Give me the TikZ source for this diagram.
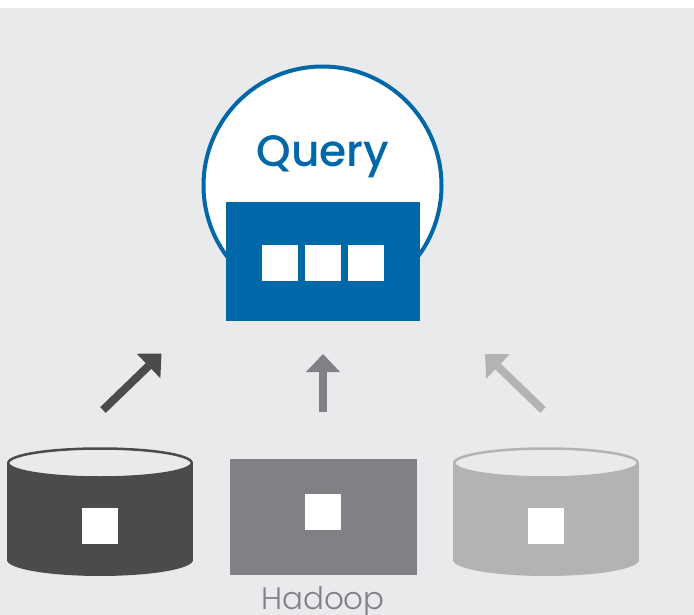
\documentclass[tikz,border=0pt]{standalone}
\usepackage{fontspec}
\setmainfont{Poppins}
\newfontfamily\qfont{Poppins Medium}
\newfontfamily\hfont{Poppins Light}
\usetikzlibrary{arrows.meta}
\definecolor{bg}{HTML}{E9EAEC}
\definecolor{qblue}{HTML}{0068A9}
\definecolor{dark}{HTML}{4B4B4D}
\definecolor{mid}{HTML}{808184}
\definecolor{light}{HTML}{B1B3B5}
\tikzset{
  sq/.style={fill=white,draw=none,minimum size=36pt,inner sep=0pt},
  uparrow/.style={line width=8pt,-{Triangle[length=18pt,width=34pt,line width=0pt]}},
}
\begin{document}
\begin{tikzpicture}[x=1pt,y=-1pt]
\useasboundingbox (0,0) rectangle (694,615);
\fill[white] (0,0) rectangle (694,615);
\fill[bg] (0,8) rectangle (694,615);
% query circle
\node[circle,draw=qblue,line width=4pt,fill=white,minimum size=238pt,inner sep=0pt] (circ) at (322.5,185.5) {};
\node[anchor=base,text=qblue,font=\qfont\fontsize{44}{44}\selectfont] (query) at (323,167) {Query};
\node[fill=qblue,minimum width=194pt,minimum height=119pt,inner sep=0pt] (qbox) at (323,261.5) {};
\node[sq] (q1) at (280,263) {};
\node[sq] (q2) at (323,263) {};
\node[sq] (q3) at (366,263) {};
% left cylinder
\fill[dark] (7,463) rectangle (193,560);
\fill[dark] (100,560) ellipse[x radius=93,y radius=16];
\filldraw[fill=bg,draw=dark,line width=2.5pt] (100,463) ellipse[x radius=91.75,y radius=14.5];
\node[sq] (s1) at (100,526) {};
% middle box
\node[fill=mid,minimum width=187pt,minimum height=116pt,inner sep=0pt] (hbox) at (323.5,517) {};
\node[sq] (s2) at (323,512) {};
\node[anchor=base,text=mid,font=\hfont\fontsize{31}{31}\selectfont] (hadoop) at (323,609) {Hadoop};
% right cylinder
\fill[light] (453,463) rectangle (639,560);
\fill[light] (546,560) ellipse[x radius=93,y radius=16];
\filldraw[fill=bg,draw=light,line width=2.5pt] (546,463) ellipse[x radius=91.75,y radius=14.5];
\node[sq] (s3) at (546,526) {};
% arrows
\coordinate (a1s) at (103,410);
\coordinate (a1e) at (161.5,353.5);
\coordinate (a2s) at (323,412);
\coordinate (a2e) at (323,354);
\coordinate (a3s) at (543,410);
\coordinate (a3e) at (485,354);
\draw[uparrow,dark] (a1s) -- (a1e);
\draw[uparrow,mid] (a2s) -- (a2e);
\draw[uparrow,light] (a3s) -- (a3e);
\end{tikzpicture}
\end{document}
